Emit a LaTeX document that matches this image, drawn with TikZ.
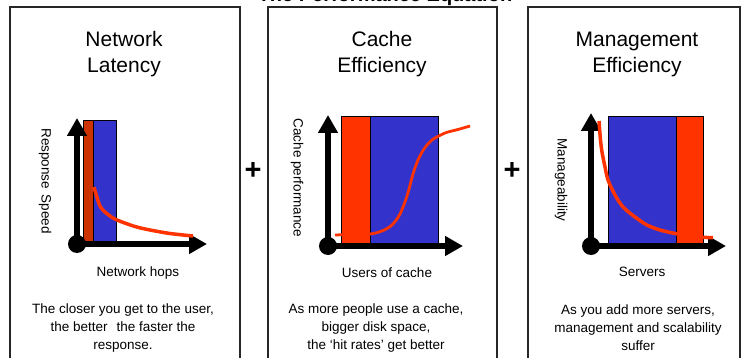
\documentclass[tikz,border=0pt]{standalone}
\usepackage{fontspec}
\setmainfont{Liberation Sans}
\usetikzlibrary{arrows.meta}
\definecolor{barblue}{HTML}{3333CC}
\definecolor{bardark}{HTML}{CC3300}
\definecolor{barred}{HTML}{FF3300}
\begin{document}
\begin{tikzpicture}[x=1pt,y=-1pt,
 panel/.style={draw=black!85,line width=1.2pt},
 axisline/.style={line width=6pt,-{Triangle[length=18pt,width=19pt]}},
 origin/.style={circle,fill=black,minimum size=18pt,inner sep=0pt},
 bar/.style={draw=black,line width=0.7pt},
 curveline/.style={draw=barred,line width=3.5pt},
 head/.style={font=\fontsize{21}{26}\selectfont,align=center},
 note/.style={font=\fontsize{13.5}{18}\selectfont,align=center},
 axlabel/.style={font=\fontsize{13.5}{16}\selectfont},
 plus/.style={font=\fontsize{29}{30}\selectfont\bfseries}]
\useasboundingbox (0,0) rectangle (743,358);
% top title (cut off by the page edge, as in the reference)
\node[font=\fontsize{20}{22}\selectfont\bfseries,anchor=base] (title) at (385,1.2) {The Performance Equation};
% panels
\draw[panel] (10,366) -- (10,7) -- (240,7) -- (240,366);
\draw[panel] (268,366) -- (268,7) -- (497,7) -- (497,366);
\draw[panel] (528,366) -- (528,7) -- (740,7) -- (740,366);
% headings
\node[head] (h1) at (124,54) {Network\\Latency};
\node[head] (h2) at (382,54) {Cache\\Efficiency};
\node[head] (h3) at (637,54) {Management\\Efficiency};
% plus signs
\node[plus] (p1) at (253,171) {+};
\node[plus] (p2) at (512,171) {+};
% ---------- panel 1 ----------
\coordinate (o1) at (77,244);
\coordinate (y1) at (77,118);
\coordinate (x1) at (207,244);
\draw[bar,fill=bardark] (83,120) rectangle (93,244);
\draw[bar,fill=barblue] (93,120) rectangle (116,244);
\draw[axisline] (o1) -- (y1);
\draw[axisline] (o1) -- (x1);
\node[origin] (d1) at (o1) {};
\draw[curveline] plot[smooth] coordinates {(94,187) (100,206) (108,214.5) (117,220) (135,226.5) (150,230) (170,233.5) (193,236)};
\node[axlabel] (lx1) at (138,273) {Network hops};
\node[axlabel,rotate=-90] (ly1) at (45,181) {Response\hspace{0.4em}Speed};
\node[note] (n1) at (123,328) {The closer you get to the user,\\the better\hspace{0.4em} the faster the\\response.};
% ---------- panel 2 ----------
\coordinate (o2) at (328,246);
\coordinate (y2) at (328,115);
\coordinate (x2) at (463,246);
\draw[bar,fill=barred] (341,116) rectangle (370,245);
\draw[bar,fill=barblue] (370,116) rectangle (438,245);
\draw[axisline] (o2) -- (y2);
\draw[axisline] (o2) -- (x2);
\node[origin] (d2) at (o2) {};
\draw[curveline,line width=2.8pt] plot[smooth] coordinates {(335,235) (350,234.5) (370,234) (382,231) (392,225) (400,214) (407,196) (413,174) (418,160) (424,149) (432,140) (445,133) (458,129.5) (470,126)};
\node[axlabel] (lx2) at (387,273) {Users of cache};
\node[axlabel,rotate=-90] (ly2) at (297,178) {Cache performance};
\node[note] (n2) at (376,328) {As more people use a cache,\\bigger disk space,\\the ‘hit rates’ get better};
% ---------- panel 3 ----------
\coordinate (o3) at (591,246);
\coordinate (y3) at (591,113);
\coordinate (x3) at (726,246);
\draw[bar,fill=barblue] (608,116) rectangle (676,245);
\draw[bar,fill=barred] (676,116) rectangle (703,245);
\draw[axisline] (o3) -- (y3);
\draw[axisline] (o3) -- (x3);
\node[origin] (d3) at (o3) {};
\draw[curveline] plot[smooth] coordinates {(599,121) (600.5,140) (602,152) (605,167) (608,180) (615,195) (623,207) (635,217) (647,225) (660,230) (675,233.5) (690,236) (703,237.3) (713,237.7)};
\node[axlabel] (lx3) at (642,272) {Servers};
\node[axlabel,rotate=-90] (ly3) at (561,180) {Manageability};
\node[note] (n3) at (638,328) {As you add more servers,\\management and scalability\\suffer};
\end{tikzpicture}
\end{document}
